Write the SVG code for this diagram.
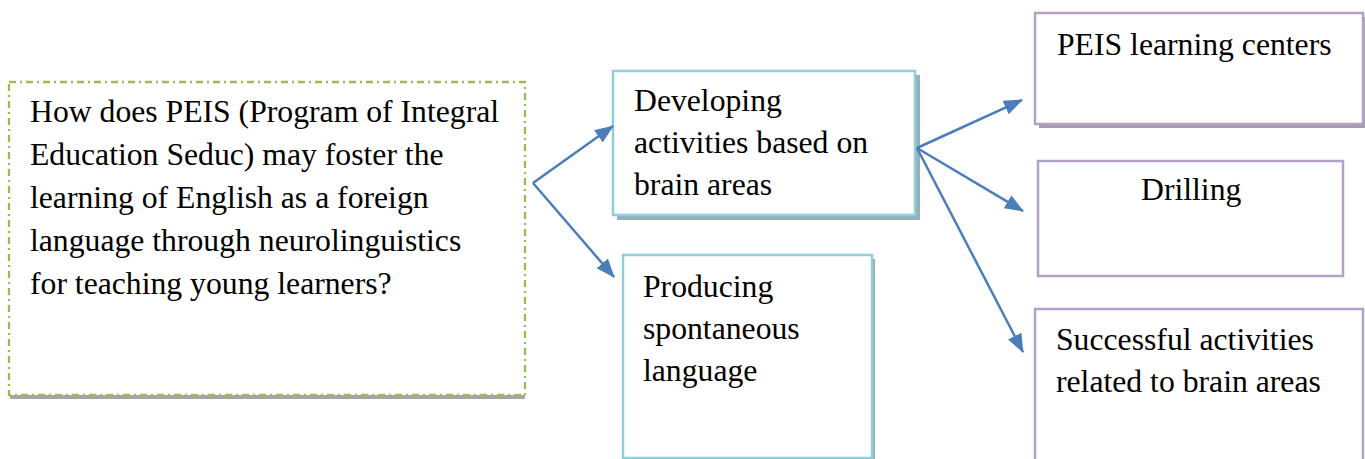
<svg xmlns="http://www.w3.org/2000/svg" width="1365" height="459" viewBox="0 0 1365 459">
  <style>
    text { font-family: "Liberation Serif", "Times New Roman", serif; font-size: 31.7px; fill: #000; }
    .question { fill: #fff; stroke: #9bbb59; stroke-width: 2.3; stroke-dasharray: 7 4 2 4; }
    .blue { fill: #fff; stroke: #92cddc; stroke-width: 2.5; }
    .blue-shadow { fill: #93b1ba; }
    .purple { fill: #fff; stroke: #b3a2c7; stroke-width: 2.5; }
    .purple-shadow { fill: #a39cab; }
    .gray-shadow { fill: #a5a5a5; }
    .link { stroke: #4a7ebb; stroke-width: 2.5; fill: none; marker-end: url(#arrow); }
  </style>
  <defs>
    <marker id="arrow" markerUnits="userSpaceOnUse" markerWidth="20" markerHeight="16" refX="18" refY="7.5" orient="auto">
      <path d="M0,0 L19,7.5 L0,15 Z" fill="#4a7ebb"/>
    </marker>
  </defs>

  <rect width="1365" height="459" fill="#fff"/>

  <!-- research question -->
  <g id="question">
    <rect class="gray-shadow" x="10" y="395" width="515" height="4"/>
    <rect class="question" x="9" y="82" width="516" height="313"/>
    <text x="30" y="122">How does PEIS (Program of Integral</text>
    <text x="30" y="165">Education Seduc) may foster the</text>
    <text x="30" y="208">learning of English as a foreign</text>
    <text x="30" y="251">language through neurolinguistics</text>
    <text x="30" y="294">for teaching young learners?</text>
  </g>

  <!-- first branch -->
  <g id="developing">
    <rect class="blue-shadow" x="617" y="75" width="303" height="145"/>
    <rect class="blue" x="613" y="71" width="302" height="144"/>
    <text x="634" y="111">Developing</text>
    <text x="634" y="153">activities based on</text>
    <text x="634" y="195">brain areas</text>
  </g>

  <g id="producing">
    <rect class="blue-shadow" x="627" y="259" width="248" height="205"/>
    <rect class="blue" x="623" y="255" width="249" height="203"/>
    <text x="643" y="297">Producing</text>
    <text x="643" y="339">spontaneous</text>
    <text x="643" y="381">language</text>
  </g>

  <!-- outcomes -->
  <g id="centers">
    <rect class="purple-shadow" x="1039" y="17" width="326" height="111"/>
    <rect class="purple" x="1035" y="13" width="328" height="111"/>
    <text x="1057" y="55">PEIS learning centers</text>
  </g>

  <g id="drilling">
    <rect class="purple" x="1038" y="161" width="305" height="115"/>
    <text x="1141" y="200">Drilling</text>
  </g>

  <g id="successful">
    <rect class="purple" x="1035" y="309" width="328" height="160"/>
    <text x="1056" y="350">Successful activities</text>
    <text x="1056" y="392">related to brain areas</text>
  </g>

  <!-- connectors -->
  <g id="connectors">
    <line class="link" x1="533" y1="183" x2="613" y2="126"/>
    <line class="link" x1="533" y1="183" x2="614" y2="277"/>
    <line class="link" x1="917" y1="148" x2="1022" y2="100"/>
    <line class="link" x1="917" y1="148" x2="1023" y2="211"/>
    <line class="link" x1="917" y1="148" x2="1023" y2="352"/>
  </g>
</svg>
